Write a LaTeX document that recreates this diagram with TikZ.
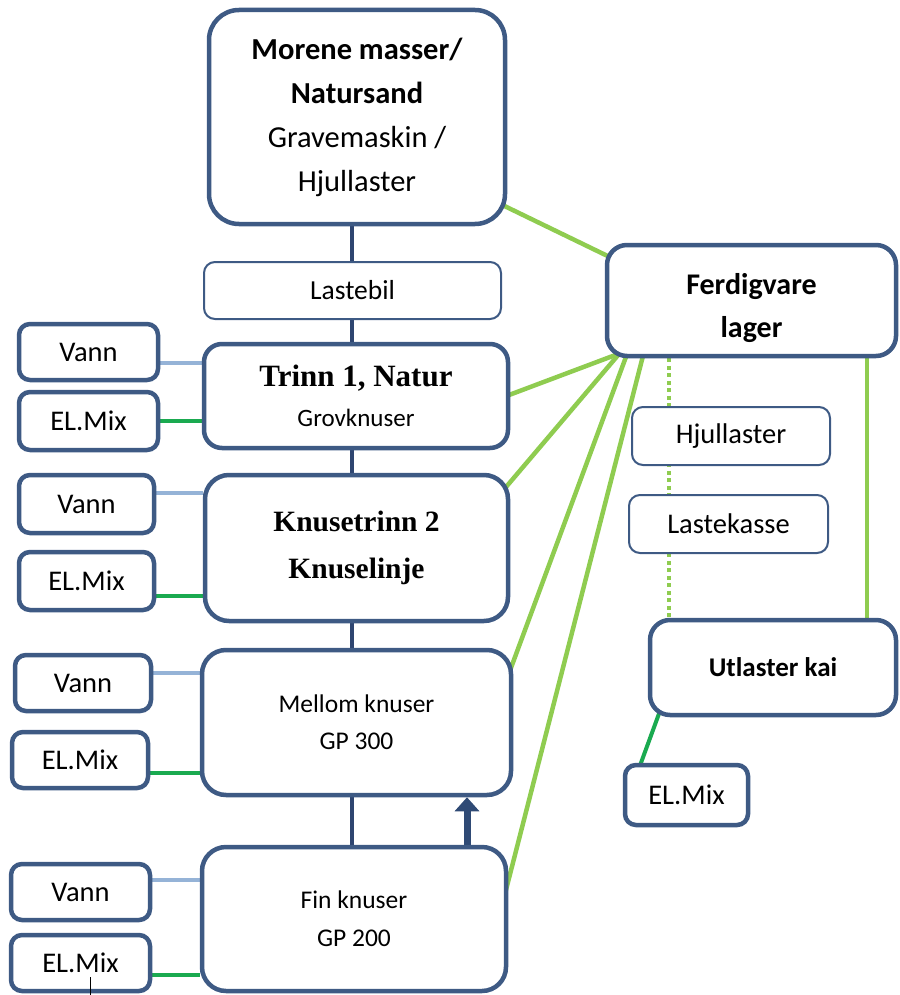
\documentclass[tikz,border=0pt]{standalone}
\usepackage{fontspec}
\setmainfont{Carlito}
\newfontfamily\tnr{Liberation Serif}
\usetikzlibrary{calc,arrows.meta}
\pgfdeclarelayer{background}
\pgfsetlayers{background,main}
\definecolor{bord}{HTML}{3E5A84}
\definecolor{trunkc}{HTML}{2E4570}
\definecolor{vannc}{HTML}{95B3D7}
\definecolor{elc}{HTML}{1AAA50}
\definecolor{lgreen}{HTML}{8FCC50}
\definecolor{arrc}{HTML}{2F4A75}
\begin{document}
\begin{tikzpicture}[x=1pt,y=-1pt,
  bigbox/.style={draw=bord, fill=white, line width=4.5pt, rounded corners=#1, align=center, inner sep=0pt},
  bigbox/.default=20pt,
  thinbox/.style={draw=bord, fill=white, line width=2pt, rounded corners=11pt, align=center, inner sep=0pt},
  sidebox/.style={draw=bord, fill=white, line width=4.5pt, rounded corners=11pt, align=center, inner sep=0pt,
    font=\fontsize{28.5}{32}\selectfont},
  trunkline/.style={draw=trunkc, line width=4.5pt},
  vannline/.style={draw=vannc, line width=4pt},
  elline/.style={draw=elc, line width=4pt},
  fanline/.style={draw=lgreen, line width=4.5pt},
  dotline/.style={draw=lgreen, line width=4pt, dash pattern=on 4pt off 3.5pt},
]
\useasboundingbox (0,0) rectangle (899,995);

% main column
\node[bigbox=30pt, minimum width=296pt, minimum height=214pt, font=\fontsize{30.5}{44}\selectfont]
  (top) at (357,117) {{\bfseries Morene masser/}\\{\bfseries Natursand}\\Gravemaskin /\\Hjullaster};
\node[thinbox, minimum width=297pt, minimum height=57pt, font=\fontsize{27.5}{30}\selectfont]
  (lastebil) at (352.5,290.5) {Lastebil};
\node[bigbox=18pt, minimum width=304pt, minimum height=104pt, font=\fontsize{25}{40}\selectfont]
  (trinn1) at (356,396) {{\tnr\bfseries\fontsize{31}{40}\selectfont Trinn 1, Natur}\\Grovknuser};
\node[bigbox=24pt, minimum width=303pt, minimum height=146pt, font=\tnr\bfseries\fontsize{29.5}{47}\selectfont]
  (knuse2) at (356.5,548) {Knusetrinn 2\\Knuselinje};
\node[bigbox=24pt, minimum width=309pt, minimum height=145pt, font=\fontsize{25.5}{37}\selectfont]
  (mellom) at (356.5,722.5) {Mellom knuser\\GP 300};
\node[bigbox=24pt, minimum width=304pt, minimum height=144pt, font=\fontsize{25.5}{38}\selectfont]
  (fin) at (354,919) {Fin knuser\\GP 200};

% side boxes
\node[sidebox, minimum width=139pt, minimum height=56pt] (vann1) at (88.5,352) {Vann};
\node[sidebox, minimum width=139pt, minimum height=58pt] (el1) at (88.5,421) {EL.Mix};
\node[sidebox, minimum width=135pt, minimum height=58pt] (vann2) at (86.5,504) {Vann};
\node[sidebox, minimum width=135pt, minimum height=58pt] (el2) at (86.5,581) {EL.Mix};
\node[sidebox, minimum width=136pt, minimum height=56pt] (vann3) at (83,683) {Vann};
\node[sidebox, minimum width=136pt, minimum height=56pt] (el3) at (80,760) {EL.Mix};
\node[sidebox, minimum width=139pt, minimum height=56pt] (vann4) at (80.5,892) {Vann};
\node[sidebox, minimum width=139pt, minimum height=56pt] (el4) at (80.5,963) {EL.Mix};

% right side
\node[bigbox=20pt, minimum width=289pt, minimum height=111pt, font=\bfseries\fontsize{30}{43}\selectfont]
  (ferdig) at (751.5,300.5) {\raisebox{-7pt}[\height][\depth]{\begin{tabular}{@{}c@{}}Ferdigvare\\lager\end{tabular}}};
\node[thinbox, minimum width=198pt, minimum height=58pt, font=\fontsize{28.5}{32}\selectfont]
  (hjul) at (731,436) {Hjullaster};
\node[thinbox, minimum width=199pt, minimum height=58pt, font=\fontsize{28.5}{32}\selectfont]
  (laste) at (728.5,524) {Lastekasse};
\node[bigbox=20pt, minimum width=246pt, minimum height=95pt, font=\bfseries\fontsize{27}{30}\selectfont]
  (utl) at (773,667.5) {Utlaster kai};
\node[sidebox, minimum width=123pt, minimum height=60pt] (elr) at (686.5,795) {EL.Mix};

% text cursor artefact
\draw[black, line width=1pt] ([shift={(9.5,14)}]el4.center) -- ([shift={(9.5,32)}]el4.center);

\begin{pgfonlayer}{background}
  % trunk
  \draw[trunkline] ([xshift=-5pt]top.south) -- ([xshift=-5pt]top.south |- fin.north);
  % water / power feeds
  \draw[vannline] ([yshift=-11pt]vann1.east) -- ([yshift=-11pt]vann1.east -| trinn1.west);
  \draw[elline]   (el1.east) -- (el1.east -| trinn1.west);
  \draw[vannline] ([yshift=11pt]vann2.east) -- ([yshift=11pt]vann2.east -| knuse2.west);
  \draw[elline]   ([yshift=-15pt]el2.east) -- ([yshift=-15pt]el2.east -| knuse2.west);
  \draw[vannline] ([yshift=10pt]vann3.east) -- ([yshift=10pt]vann3.east -| mellom.west);
  \draw[elline]   ([yshift=-13pt]el3.east) -- ([yshift=-13pt]el3.east -| mellom.west);
  \draw[vannline] ([yshift=12pt]vann4.east) -- ([yshift=12pt]vann4.east -| fin.west);
  \draw[elline]   ([yshift=-12pt]el4.east) -- ([yshift=-12pt]el4.east -| fin.west);
  % green fan to Ferdigvare lager
  \draw[fanline] ($(top.center)+(133,82)$) -- ($(ferdig.center)+(-131.5,-38.5)$);
  \draw[fanline] ($(trinn1.center)+(144,2.4)$) -- ($(ferdig.center)+(-126.5,50.9)$);
  \draw[fanline] ($(knuse2.center)+(138.5,-48)$) -- ($(ferdig.center)+(-126.5,46.5)$);
  \draw[fanline] ($(mellom.center)+(150,-42.5)$) -- ($(ferdig.center)+(-121.5,45.5)$);
  \draw[fanline] ($(fin.center)+(149.4,-19)$) -- ($(ferdig.center)+(-106.5,47.5)$);
  % right side links
  \draw[dotline] ([xshift=-82.5pt]ferdig.south) -- ([xshift=-82.5pt]ferdig.south |- utl.north);
  \draw[fanline] ([xshift=115.5pt]ferdig.south) -- ([xshift=115.5pt]ferdig.south |- utl.north);
  \draw[elline] ($(utl.center)+(-109,32.5)$) -- ($(elr.center)+(-51.8,-15)$);
  % up arrow between Fin knuser and Mellom knuser
  \draw[draw=arrc, line width=7pt, -{Triangle[length=14pt,width=24pt]}]
    ([xshift=110.5pt]mellom.south |- fin.north) -- ([xshift=110.5pt]mellom.south);
\end{pgfonlayer}
\end{tikzpicture}
\end{document}
